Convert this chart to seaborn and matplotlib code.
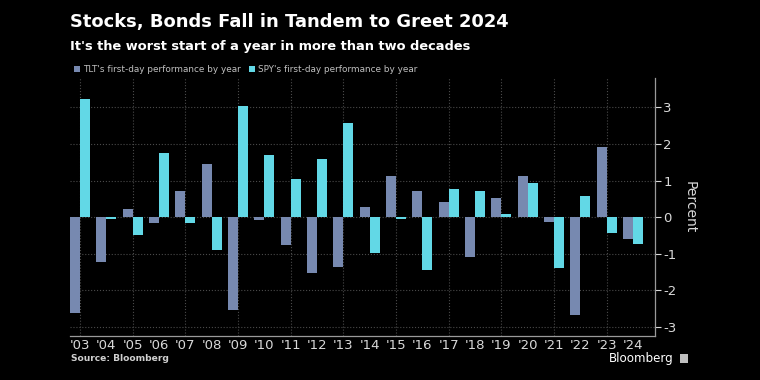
import pandas as pd
import matplotlib.pyplot as plt
import seaborn as sns

# Values (percent, first trading day)
YEARS = ["'03", "'04", "'05", "'06", "'07", "'08", "'09", "'10", "'11", "'12", "'13",
         "'14", "'15", "'16", "'17", "'18", "'19", "'20", "'21", "'22", "'23", "'24"]
TLT = [-2.62, -1.22, 0.21, -0.15, 0.72, 1.44, -2.54, -0.09, -0.77, -1.52, -1.37,
       0.29, 1.11, 0.72, 0.42, -1.10, 0.52, 1.13, -0.13, -2.66, 1.91, -0.60]
SPY = [3.23, -0.04, -0.49, 1.76, -0.17, -0.90, 3.02, 1.70, 1.03, 1.59, 2.57,
       -0.99, -0.05, -1.43, 0.76, 0.72, 0.10, 0.93, -1.38, 0.57, -0.43, -0.74]
SERIES = ["TLT's first-day performance by year", "SPY's first-day performance by year"]
COLORS = ["#7789b0", "#62d8e6"]
Y_TICKS = [-3, -2, -1, 0, 1, 2, 3]

BG = "black"
GRID = "#4a4a4a"
TEXT = "#d9d9d9"

df = pd.DataFrame({
    'Year': YEARS * 2,
    'Value': TLT + SPY,
    'Series': [SERIES[0]] * len(YEARS) + [SERIES[1]] * len(YEARS),
})

sns.set_theme(style="dark")
plt.rcParams['font.family'] = ['DejaVu Sans']

fig = plt.figure(figsize=(7.6, 3.8), dpi=100, facecolor=BG)
ax = fig.add_axes([0.092, 0.116, 0.77, 0.679])
ax.set_facecolor(BG)

sns.barplot(data=df, x='Year', y='Value', hue='Series', palette=COLORS,
            width=0.76, saturation=1, legend=False, linewidth=0, edgecolor='none', ax=ax)

ax.set_xlim(-0.38, 21.84)
ax.set_ylim(-3.24, 3.8)

# Axis on the right
ax.yaxis.tick_right()
ax.yaxis.set_label_position("right")
ax.set_yticks(Y_TICKS)
ax.set_yticklabels([str(t) for t in Y_TICKS])
ax.set_ylabel("Percent", color=TEXT, fontsize=10, rotation=-90, labelpad=14)
ax.set_xlabel("")

ax.tick_params(axis='y', colors=TEXT, labelsize=9.5, length=4, width=0.8, pad=2,
               right=True, left=False)
ax.tick_params(axis='x', colors=TEXT, labelsize=9.5, length=0, pad=2)

for s in ['top', 'left']:
    ax.spines[s].set_visible(False)
for s in ['bottom', 'right']:
    ax.spines[s].set_color("#9a9a9a")
    ax.spines[s].set_linewidth(0.9)

# Dotted grid: every integer horizontally, every other year vertically
for y in Y_TICKS:
    ax.axhline(y, color=GRID, linestyle=':', linewidth=0.8, zorder=0)
for x in range(0, len(YEARS), 2):
    ax.axvline(x, color=GRID, linestyle=':', linewidth=0.8, zorder=0)
ax.grid(False)

# Titles
fig.text(0.092, 0.942, "Stocks, Bonds Fall in Tandem to Greet 2024", color="white",
         fontsize=12.9, fontweight='bold', va='center', ha='left')
fig.text(0.092, 0.878, "It's the worst start of a year in more than two decades", color="white",
         fontsize=9.4, fontweight='bold', va='center', ha='left')

# Legend row
for x0, label, c in zip([0.097, 0.327], SERIES, COLORS):
    fig.patches.append(plt.Rectangle((x0, 0.811), 0.008, 0.016, transform=fig.transFigure,
                                     facecolor=c, edgecolor='none'))
    fig.text(x0 + 0.012, 0.818, label, color="#bfbfbf", fontsize=6.4, va='center', ha='left')

fig.text(0.094, 0.057, "Source: Bloomberg", color="#d0d0d0", fontsize=6.6,
         fontweight='bold', va='center', ha='left')
fig.text(0.886, 0.056, "Bloomberg", color="white", fontsize=8.6, va='center', ha='right')
fig.patches.append(plt.Rectangle((0.895, 0.045), 0.010, 0.024, transform=fig.transFigure,
                                 facecolor="#bfbfbf", edgecolor='none'))

fig.savefig("out.png", dpi=100, facecolor=BG)
